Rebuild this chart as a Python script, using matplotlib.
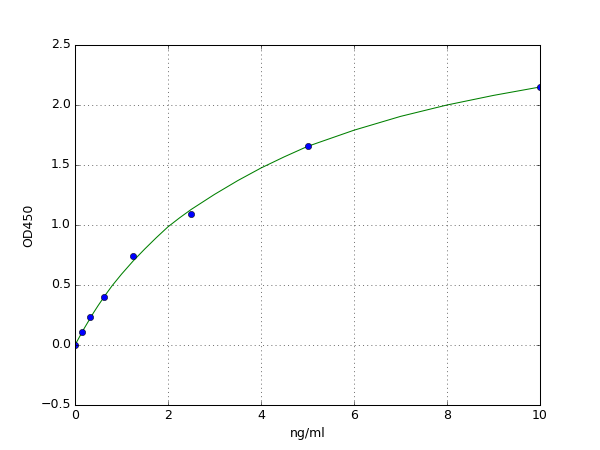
import matplotlib
matplotlib.use("Agg")
import matplotlib.pyplot as plt

# standard points (concentration vs OD)
conc = [0, 0.156, 0.3125, 0.625, 1.25, 2.5, 5, 10]
od = [0.0, 0.11, 0.23, 0.40, 0.74, 1.09, 1.655, 2.15]

# fitted curve
fit_x = [0, 0.1, 0.2, 0.3, 0.4, 0.5, 0.65, 0.8, 1.0, 1.25, 1.5, 1.75,
         2.0, 2.25, 2.5, 3.0, 3.5, 4.0, 4.5, 5, 6, 7, 8, 9, 10]
fit_y = [0.0, 0.07, 0.14, 0.205, 0.27, 0.33, 0.415, 0.495, 0.59, 0.70,
         0.80, 0.895, 0.985, 1.06, 1.13, 1.255, 1.37, 1.475, 1.568, 1.655,
         1.79, 1.905, 2.0, 2.08, 2.15]

plt.style.use('classic')
fig = plt.figure(figsize=(8, 6), dpi=75)
ax = fig.add_subplot(111)

ax.plot(fit_x, fit_y, 'g-', linewidth=1)
ax.plot(conc, od, 'bo', markersize=6)

ax.set_xlim(0, 10)
ax.set_ylim(-0.5, 2.5)
ax.set_xlabel('ng/ml')
ax.set_ylabel('OD450')
ax.grid(True)

fig.savefig('out.png', dpi=75)
